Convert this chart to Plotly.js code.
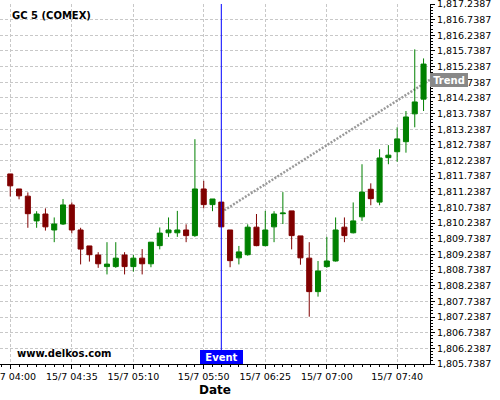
<!DOCTYPE html>
<html>
<head>
<meta charset="utf-8">
<script src="https://cdn.plot.ly/plotly-3.0.1.min.js"></script>
<style>html,body{margin:0;padding:0;background:#fff}#chart{width:500px;height:400px}</style>
</head>
<body>
<div id="chart"></div>
<script>
var times = ['04:00','04:05','04:10','04:15','04:20','04:25','04:30','04:35','04:40','04:45','04:50','04:55',
             '05:00','05:05','05:10','05:15','05:20','05:25','05:30','05:35','05:40','05:45','05:50','05:55',
             '06:00','06:05','06:10','06:15','06:20','06:25','06:30','06:35','06:40','06:45','06:50','06:55',
             '07:00','07:05','07:10','07:15','07:20','07:25','07:30','07:35','07:40','07:45','07:50','07:55'];
var openV = [1811.81,1811.33,1811.10,1810.31,1810.53,1810.02,1810.21,1810.82,1810.02,1809.51,1809.22,1808.85,
             1808.85,1809.22,1808.85,1809.12,1808.94,1809.52,1809.93,1809.93,1810.02,1809.84,1811.33,1810.83,
             1810.91,1810.02,1809.13,1809.23,1810.11,1809.52,1810.12,1810.54,1810.63,1809.83,1809.12,1808.05,
             1808.85,1809.03,1810.11,1809.93,1810.44,1811.32,1810.91,1812.33,1812.52,1812.84,1813.73,1814.20];
var highV = [1811.81,1811.33,1811.22,1810.62,1810.71,1810.42,1811.01,1810.90,1810.09,1809.51,1809.31,1809.63,
             1809.63,1809.31,1809.22,1809.41,1809.63,1810.10,1810.42,1810.63,1810.20,1812.92,1811.59,1811.01,
             1810.91,1810.02,1809.51,1810.20,1810.53,1810.63,1810.62,1811.23,1810.63,1809.83,1809.63,1809.03,
             1809.80,1810.42,1810.42,1810.90,1812.12,1811.51,1812.60,1812.73,1813.30,1813.82,1815.79,1815.50];
var lowV  = [1811.09,1811.00,1810.09,1810.09,1810.00,1809.63,1810.18,1809.91,1808.92,1809.01,1808.81,1808.60,
             1808.81,1808.60,1808.69,1808.60,1808.83,1809.40,1809.80,1809.80,1809.63,1809.80,1810.71,1810.62,
             1810.12,1808.83,1808.92,1809.20,1809.50,1809.50,1809.63,1810.21,1809.40,1808.91,1807.25,1807.89,
             1808.81,1809.01,1809.63,1809.91,1810.31,1810.81,1810.81,1812.12,1812.20,1812.49,1813.30,1813.82];
var closeV = [1811.43,1811.11,1810.54,1810.53,1810.12,1810.21,1810.82,1810.02,1809.41,1809.23,1808.94,1808.93,
              1809.12,1808.85,1809.12,1808.94,1809.63,1809.92,1810.02,1810.02,1809.84,1811.33,1810.83,1811.01,
              1810.12,1809.04,1809.32,1810.11,1809.52,1810.02,1810.53,1810.56,1809.84,1809.13,1808.05,1808.71,
              1809.03,1810.02,1809.84,1810.31,1811.23,1811.02,1812.32,1812.41,1812.93,1813.63,1814.11,1815.32];
var tickTimes = ['04:00','04:35','05:10','05:50','06:25','07:00','07:40'];
var tickLabels = ['15/7 04:00','15/7 04:35','15/7 05:10','15/7 05:50','15/7 06:25','15/7 07:00','15/7 07:40'];
var trendTimes = ['06:00','07:58:40'];
var trendValues = [1810.59, 1814.82];
var eventTime = '06:00';
var yTick0 = 1805.7387;
var yRange = [1805.7386, 1817.2388];
var xRange = ['03:54:10','07:58:40'];

var day = '2021-07-15 ';
function d(t){ return day + t; }

var FONT = 'DejaVu Sans, sans-serif';

var candles = {
  type: 'candlestick',
  x: times.map(d),
  open: openV, high: highV, low: lowV, close: closeV,
  increasing: {line: {color: '#008000', width: 1}, fillcolor: '#008000'},
  decreasing: {line: {color: '#800000', width: 1}, fillcolor: '#800000'},
  whiskerwidth: 0,
  hoverinfo: 'skip',
  showlegend: false
};

var layout = {
  width: 500, height: 400,
  margin: {l: 0, r: 70, t: 4, b: 36},
  paper_bgcolor: '#ffffff', plot_bgcolor: '#ffffff',
  showlegend: false,
  boxgap: 0.18,
  font: {family: FONT, size: 9.5, color: '#000'},
  xaxis: {
    type: 'date',
    range: xRange.map(d),
    rangeslider: {visible: false},
    tickmode: 'array',
    tickvals: tickTimes.map(d),
    ticktext: tickLabels,
    ticklabeloverflow: 'allow',
    ticks: 'outside', ticklen: 4, tickcolor: '#000',
    showline: true, linecolor: '#000', linewidth: 1,
    showgrid: true, gridcolor: '#c8c8c8', griddash: '3px,2px', gridwidth: 1,
    zeroline: false,
    automargin: false,
    minor: {dtick: 300000, tick0: d('04:00'), ticks: 'outside', ticklen: 2, tickcolor: '#000', showgrid: false},
    title: {text: '<b>Date</b>', font: {family: FONT, size: 12, color: '#000'}, standoff: 4}
  },
  yaxis: {
    side: 'right',
    range: yRange,
    tick0: yTick0, dtick: 0.5,
    tickformat: ',.4f',
    ticklabeloverflow: 'allow',
    ticks: 'outside', ticklen: 4, tickcolor: '#000',
    showline: true, linecolor: '#000', linewidth: 1,
    showgrid: true, gridcolor: '#c8c8c8', griddash: '3px,2px', gridwidth: 1,
    zeroline: false,
    automargin: false,
    minor: {dtick: 0.1, tick0: yTick0, ticks: 'outside', ticklen: 2, tickcolor: '#000', showgrid: false},
    tickfont: {family: FONT, size: 9.5, color: '#000'}
  },
  shapes: [
    {type: 'line', layer: 'between', xref: 'x', yref: 'y',
     x0: d(trendTimes[0]), y0: trendValues[0], x1: d(trendTimes[1]), y1: trendValues[1],
     line: {color: '#999999', width: 2.5, dash: '2px,1.5px'}},
    {type: 'line', xref: 'x', yref: 'paper', x0: d(eventTime), x1: d(eventTime), y0: 0, y1: 1,
     line: {color: '#0000ff', width: 1}}
  ],
  annotations: [
    {xref: 'paper', yref: 'paper', x: 0.023, y: 0.967, xanchor: 'left', yanchor: 'middle',
     text: '<b>GC 5 (COMEX)</b>', showarrow: false, font: {family: FONT, size: 10, color: '#000'}},
    {xref: 'paper', yref: 'paper', x: 0.035, y: 0.03, xanchor: 'left', yanchor: 'middle',
     text: '<b>www.delkos.com</b>', showarrow: false, font: {family: FONT, size: 10, color: '#000'}},
    {xref: 'x', yref: 'paper', x: d(eventTime), y: 0, xanchor: 'center', yanchor: 'bottom',
     text: '<b>Event</b>', showarrow: false, bgcolor: '#0000ff', borderpad: 0, borderwidth: 0,
     width: 43, height: 14, font: {family: FONT, size: 10, color: '#ffffff'}},
    {xref: 'paper', yref: 'y', x: 1, y: trendValues[1], xanchor: 'left', yanchor: 'middle',
     text: '<b>Trend</b>', showarrow: false, bgcolor: '#888888', borderpad: 0, borderwidth: 0,
     width: 38, height: 14, font: {family: FONT, size: 10, color: '#ffffff'}}
  ]
};

Plotly.newPlot('chart', [candles], layout, {staticPlot: true, displayModeBar: false});
</script>
</body>
</html>
